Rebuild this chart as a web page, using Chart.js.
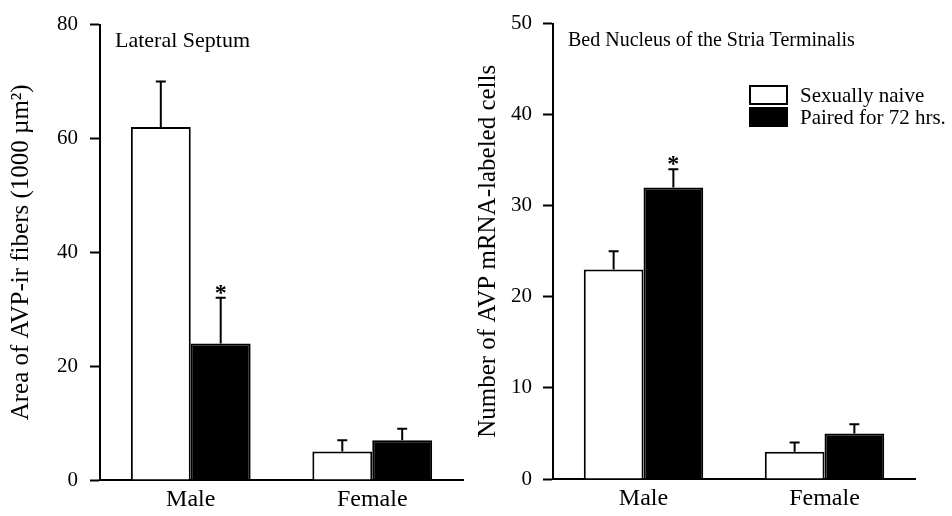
<!DOCTYPE html>
<html>
<head>
<meta charset="utf-8">
<script src="https://cdn.jsdelivr.net/npm/chart.js@4.4.0/dist/chart.umd.min.js"></script>
<style>
  body { margin: 0; background: #fff; }
  #wrap { position: relative; width: 952px; height: 516px; }
  .panel { position: absolute; top: 0; width: 476px; height: 516px; }
</style>
</head>
<body>
<div id="wrap">
  <div class="panel" style="left:0"><canvas id="septum" width="476" height="516"></canvas></div>
  <div class="panel" style="left:476px"><canvas id="bnst" width="476" height="516"></canvas></div>
</div>
<script>
const categories = ['Male', 'Female'];
const seriesNames = ['Sexually naive', 'Paired for 72 hrs.'];

// Lateral Septum: area of AVP-ir fibers
const septumNaive = [62, 5];
const septumNaiveErr = [8, 2];
const septumPaired = [24, 7];
const septumPairedErr = [8, 2];
const septumStars = [false, false];
const septumPairedStars = [true, false];

// BNST: number of AVP mRNA-labeled cells
const bnstNaive = [23, 3];
const bnstNaiveErr = [2, 1];
const bnstPaired = [32, 5];
const bnstPairedErr = [2, 1];
const bnstStars = [false, false];
const bnstPairedStars = [true, false];

const SERIF = '"Liberation Serif", "DejaVu Serif", serif';

// draws the upward error whiskers and significance stars
const errorBars = {
  id: 'errorBars',
  afterDatasetsDraw(chart) {
    const ctx = chart.ctx, y = chart.scales.y;
    chart.data.datasets.forEach((ds, i) => {
      const meta = chart.getDatasetMeta(i);
      meta.data.forEach((bar, j) => {
        const top = y.getPixelForValue(ds.data[j] + ds.errors[j]);
        ctx.save();
        ctx.strokeStyle = '#000';
        ctx.lineWidth = 2;
        ctx.beginPath();
        ctx.moveTo(bar.x, bar.y);
        ctx.lineTo(bar.x, top);
        ctx.moveTo(bar.x - 5, top);
        ctx.lineTo(bar.x + 5, top);
        ctx.stroke();
        if (ds.stars[j]) {
          ctx.fillStyle = '#000';
          ctx.font = 'bold 24px ' + SERIF;
          ctx.textAlign = 'center';
          ctx.textBaseline = 'alphabetic';
          ctx.fillText('*', bar.x, top + 2);
        }
        ctx.restore();
      });
    });
  }
};

// panel caption inside the plot, plus optional legend
const panelText = {
  id: 'panelText',
  afterDraw(chart, args, opts) {
    const ctx = chart.ctx, a = chart.chartArea;
    ctx.save();
    ctx.fillStyle = '#000';
    ctx.textBaseline = 'middle';
    ctx.font = opts.size + 'px ' + SERIF;
    ctx.fillText(opts.title, a.left + opts.dx, 41);
    if (opts.legend) {
      const L = opts.legend;
      ctx.font = '21px ' + SERIF;
      chart.data.datasets.forEach((ds, i) => {
        const by = L.y + i * 22;
        ctx.fillStyle = ds.backgroundColor;
        ctx.fillRect(L.x, by, 37, 18);
        ctx.strokeStyle = '#000';
        ctx.lineWidth = 2;
        ctx.strokeRect(L.x, by, 37, 18);
        ctx.fillStyle = '#000';
        ctx.fillText(ds.label, L.x + 50, by + 10);
      });
    }
    ctx.restore();
  }
};

function makeDatasets(naive, naiveErr, naiveStars, paired, pairedErr, pairedStars) {
  return [
    { label: seriesNames[0], data: naive, errors: naiveErr, stars: naiveStars,
      backgroundColor: '#fff', borderColor: '#000', borderWidth: 2 },
    { label: seriesNames[1], data: paired, errors: pairedErr, stars: pairedStars,
      backgroundColor: '#000', borderColor: '#000', borderWidth: 2 }
  ];
}

function makeChart(id, datasets, cfg) {
  return new Chart(document.getElementById(id), {
    type: 'bar',
    data: { labels: categories, datasets: datasets },
    plugins: [errorBars, panelText],
    options: {
      responsive: false,
      animation: false,
      categoryPercentage: 0.66,
      barPercentage: 1,
      layout: { padding: { top: cfg.top, right: cfg.right, left: 0, bottom: 0 } },
      plugins: {
        legend: { display: false },
        tooltip: { enabled: false },
        panelText: { title: cfg.title, size: cfg.titleSize, dx: 15, legend: cfg.legend }
      },
      scales: {
        x: {
          ticks: { color: '#000', font: { family: SERIF, size: 24 }, padding: 5 },
          grid: { display: false, drawTicks: false },
          border: { display: true, color: '#000', width: 2 },
          afterFit(s) { s.height = cfg.xHeight; }
        },
        y: {
          min: 0, max: cfg.max,
          ticks: { stepSize: cfg.step, color: '#000', font: { family: SERIF, size: 21 }, padding: cfg.tickPad },
          grid: { display: true, drawOnChartArea: false, drawTicks: true, tickLength: 10, tickWidth: 2, tickColor: '#000' },
          border: { display: true, color: '#000', width: 2 },
          title: { display: true, text: cfg.yTitle, color: '#000', font: { family: SERIF, size: 25, lineHeight: 1 },
                   padding: { top: cfg.titlePad, bottom: 0 } },
          afterFit(s) { s.width = cfg.yWidth; }
        }
      }
    }
  });
}

makeChart('septum',
  makeDatasets(septumNaive, septumNaiveErr, septumStars, septumPaired, septumPairedErr, septumPairedStars),
  { top: 24, right: 13, xHeight: 36, max: 80, step: 20, tickPad: 12, titlePad: 9, yWidth: 100,
    yTitle: 'Area of AVP-ir fibers (1000 µm²)', title: 'Lateral Septum', titleSize: 22 });

makeChart('bnst',
  makeDatasets(bnstNaive, bnstNaiveErr, bnstStars, bnstPaired, bnstPairedErr, bnstPairedStars),
  { top: 22, right: 37, xHeight: 37, max: 50, step: 10, tickPad: 11, titlePad: 0, yWidth: 77,
    yTitle: 'Number of AVP mRNA-labeled cells', title: 'Bed Nucleus of the Stria Terminalis', titleSize: 20,
    legend: { x: 274, y: 86 } });
</script>
</body>
</html>
